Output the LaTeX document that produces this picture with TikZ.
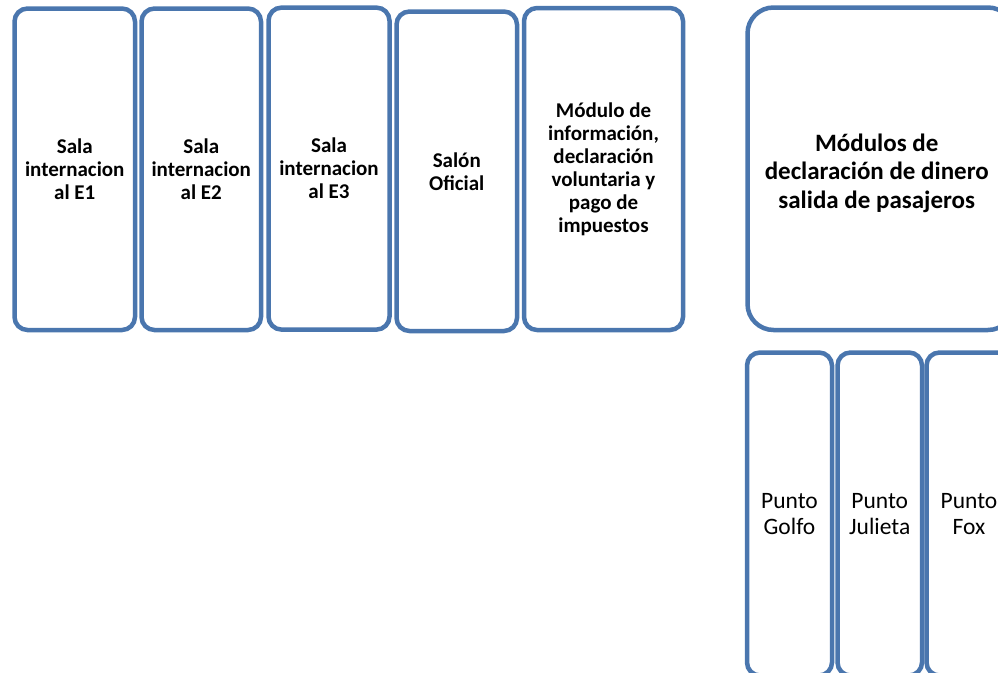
\documentclass[tikz,border=0pt]{standalone}
\usepackage{fontspec}
\setmainfont{Carlito}
\usepackage{xcolor}
\definecolor{boxblue}{HTML}{4A76AE}
\tikzset{
  sala/.style={draw=boxblue, fill=white, line width=4.5pt, rounded corners=13pt,
    align=center, inner sep=0pt, font=\fontsize{21}{23}\selectfont\bfseries},
  punto/.style={sala, font=\fontsize{23.5}{26.7}\selectfont}
}

\begin{document}
\begin{tikzpicture}[x=1pt, y=-1pt]
\useasboundingbox (0,0) rectangle (998,672);
% salas y modulos de arriba
\node[sala, minimum width=120.5pt, minimum height=321.5pt] (salaE1) at (74.75,169.25) {Sala\\internacion\\al E1};
\node[sala, minimum width=119.5pt, minimum height=321.5pt] (salaE2) at (201.25,169.25) {Sala\\internacion\\al E2};
\node[sala, minimum width=121pt, minimum height=322pt] (salaE3) at (329,168.6) {Sala\\internacion\\al E3};
\node[sala, minimum width=120.5pt, minimum height=319.5pt] (salon) at (456.75,171.25) {Salón\\Oficial};
\node[sala, minimum width=159pt, minimum height=322pt] (modulo) at (603.5,169) {Módulo de\\información,\\declaración\\voluntaria y\\pago de\\impuestos};
\node[sala, rounded corners=26pt, minimum width=266.5pt, minimum height=322.5pt] (modulos) at (880.75,168.75) {};
\node[font=\fontsize{25}{28.5}\selectfont\bfseries, align=center] (modulostxt) at ([xshift=-4pt, yshift=-4.5pt]modulos.center) {Módulos de\\declaración de dinero\\salida de pasajeros};
% puntos de abajo
\node[punto, minimum width=85pt, minimum height=323pt] (golfo) at (789.5,514) {Punto\\Golfo};
\node[punto, minimum width=84.5pt, minimum height=323pt] (julieta) at (879.75,514) {Punto\\Julieta};
\node[punto, minimum width=85pt, minimum height=323pt] (fox) at (969,514) {Punto\\Fox};
\end{tikzpicture}
\end{document}
